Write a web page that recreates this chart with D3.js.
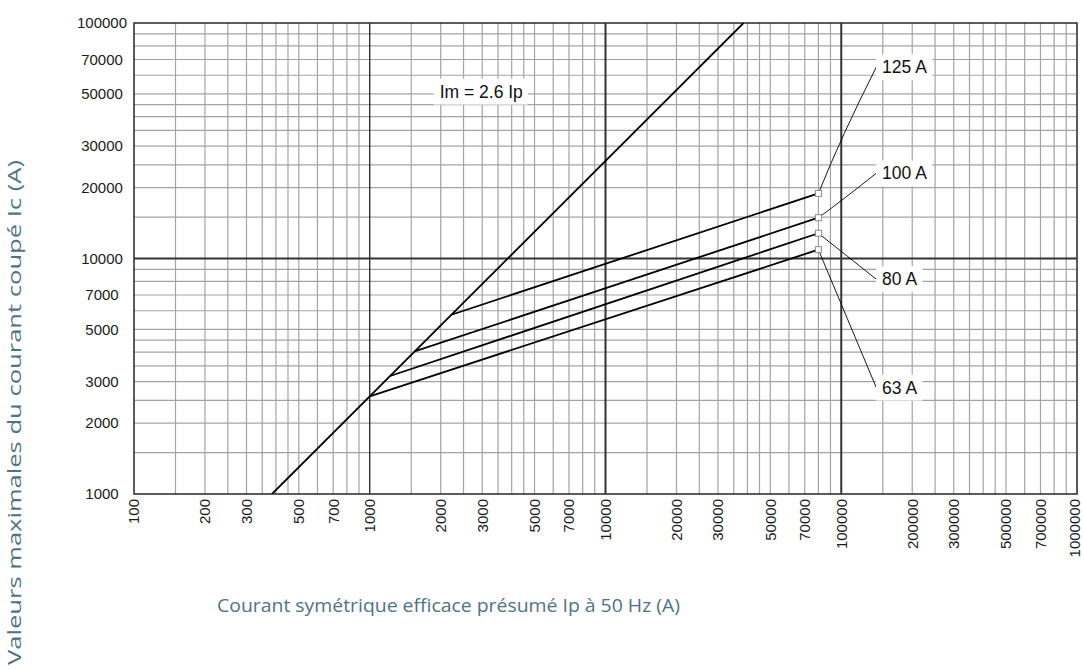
<!DOCTYPE html>
<html><head><meta charset="utf-8">
<script src="https://cdn.jsdelivr.net/npm/d3@7"></script>
<style>
html,body{margin:0;padding:0;background:#fff;}
svg{display:block;}
</style></head>
<body>
<svg id="chart" width="1084" height="669"></svg>
<script>
// ---- data ----
const xTickLabels = [100,200,300,500,700,1000,2000,3000,5000,7000,10000,20000,30000,50000,70000,100000,200000,300000,500000,700000,1000000];
const yTickLabels = [1000,2000,3000,5000,7000,10000,20000,30000,50000,70000,100000];
const gridMultipliers = [1.5,2,2.5,3,3.5,4,4.5,5,6,7,8,9];
const xDecades = [100,1000,10000,100000,1000000];
const yDecades = [1000,10000,100000];
const imLine = [[385,1000],[38500,100000]];
const imLabel = "Im = 2.6 Ip";
const imLabelPos = [1980,51200];
const ratings = ["63 A","80 A","100 A","125 A"];
const curveStart = [[1000,2600],[1220,3170],[1550,4030],[2220,5770]];
const curveEnd = [[80000,10900],[80000,12800],[80000,14900],[80000,18900]];
const labelY = [2834,8170,23000,64860];
const labelX = 149000;
const leaderX = 140700;
const xTitle = "Courant symétrique efficace présumé Ip à 50 Hz (A)";
const yTitle = "Valeurs maximales du courant coupé Ic (A)";

// ---- layout ----
const L = 134, R = 1077, T = 23, B = 494;
const svg = d3.select("#chart");
const x = d3.scaleLog().domain([100,1000000]).range([L,R]);
const y = d3.scaleLog().domain([1000,100000]).range([B,T]);

// minor grid
const xGrid = [], yGrid = [];
for (const d of xDecades.slice(0,-1)) for (const m of gridMultipliers) xGrid.push(d*m);
for (const d of yDecades.slice(0,-1)) for (const m of gridMultipliers) yGrid.push(d*m);

const g = svg.append("g");
g.selectAll(".vg").data(xGrid).join("line")
  .attr("x1",d=>x(d)).attr("x2",d=>x(d)).attr("y1",T).attr("y2",B)
  .attr("stroke","#a3a3a3").attr("stroke-width",1.2);
g.selectAll(".hg").data(yGrid).join("line")
  .attr("y1",d=>y(d)).attr("y2",d=>y(d)).attr("x1",L).attr("x2",R)
  .attr("stroke","#a3a3a3").attr("stroke-width",1.2);

// decade lines
g.selectAll(".vd").data(xDecades.slice(1,-1)).join("line")
  .attr("x1",d=>x(d)).attr("x2",d=>x(d)).attr("y1",T).attr("y2",B)
  .attr("stroke",d=>d===1000?"#111":"#333").attr("stroke-width",d=>d===1000?1.2:2);
g.selectAll(".hd").data(yDecades.slice(1,-1)).join("line")
  .attr("y1",d=>y(d)).attr("y2",d=>y(d)).attr("x1",L).attr("x2",R)
  .attr("stroke","#333").attr("stroke-width",2);

// frame
g.append("rect").attr("x",L).attr("y",T).attr("width",R-L).attr("height",B-T)
  .attr("fill","none").attr("stroke","#333").attr("stroke-width",1.6);

// axes (labels only)
const yAxis = d3.axisLeft(y).tickValues(yTickLabels).tickFormat(d3.format("d")).tickSize(0);
const ya = svg.append("g").attr("transform",`translate(${L},0)`).call(yAxis);
ya.select(".domain").remove();
ya.selectAll("text").attr("x",-32).attr("text-anchor","middle")
  .style("font-family","'Liberation Sans', Arial, sans-serif").style("font-size","15px").attr("fill","#1a1a1a");

const xAxis = d3.axisBottom(x).tickValues(xTickLabels).tickFormat(d3.format("d")).tickSize(0);
const xa = svg.append("g").attr("transform",`translate(0,${B})`).call(xAxis);
xa.select(".domain").remove();
xa.selectAll("text").attr("transform","rotate(-90)").attr("x",-5).attr("y",d=>d===1000000?-2:0).attr("dy","0.33em")
  .attr("text-anchor","end")
  .style("font-family","'Liberation Sans', Arial, sans-serif").style("font-size","15px").attr("fill","#1a1a1a");

// Im line
const line = d3.line().x(d=>x(d[0])).y(d=>y(d[1]));
svg.append("clipPath").attr("id","pc").append("rect").attr("x",L).attr("y",T).attr("width",R-L).attr("height",B-T);
svg.append("path").datum(imLine).attr("d",line).attr("clip-path","url(#pc)")
  .attr("fill","none").attr("stroke","#000").attr("stroke-width",1.8);

// rating curves
svg.selectAll(".rc").data(ratings).join("path")
  .attr("d",(d,i)=>line([curveStart[i],curveEnd[i]]))
  .attr("fill","none").attr("stroke","#000").attr("stroke-width",1.8);

// leaders
svg.selectAll(".ld").data(ratings).join("path")
  .attr("d",(d,i)=>{
    const x0 = x(curveEnd[i][0]), y0 = y(curveEnd[i][1]);
    const x1 = x(leaderX), y1 = y(labelY[i]);
    const p = d3.path(); p.moveTo(x0,y0);
    const bend = (i===3) ? 6 : (i===2 ? 4 : 0);
    p.quadraticCurveTo((x0+x1)/2 - bend, (y0+y1)/2 + bend, x1, y1);
    return p.toString();
  })
  .attr("fill","none").attr("stroke","#000").attr("stroke-width",0.9);

// squares
svg.selectAll(".sq").data(ratings).join("rect")
  .attr("x",(d,i)=>x(curveEnd[i][0])-3).attr("y",(d,i)=>y(curveEnd[i][1])-3)
  .attr("width",6).attr("height",6).attr("fill","#fff").attr("stroke","#8a8a8a").attr("stroke-width",1);

// labels with white boxes
function boxedLabel(tx, ty, text){
  const gg = svg.append("g");
  const t = gg.append("text").attr("x",tx).attr("y",ty).attr("dy","0.35em").text(text)
    .style("font-family","'Liberation Sans', Arial, sans-serif").style("font-size","17.5px").attr("fill","#111");
  const bb = t.node().getBBox();
  gg.insert("rect","text").attr("x",bb.x-6).attr("y",bb.y-3).attr("width",bb.width+11).attr("height",bb.height+6).attr("fill","#fff");
}
ratings.forEach((r,i)=>boxedLabel(x(labelX), y(labelY[i]), r));
boxedLabel(x(imLabelPos[0]), y(imLabelPos[1]), imLabel);

// axis titles
svg.append("text").attr("x",217).attr("y",612).text(xTitle)
  .attr("textLength",463).attr("lengthAdjust","spacingAndGlyphs")
  .style("font-family","'Open Sans', sans-serif").style("font-size","19px").attr("fill","#4f7385");
svg.append("text").attr("transform","translate(21,412.5) rotate(-90)").attr("text-anchor","middle").text(yTitle)
  .attr("textLength",505).attr("lengthAdjust","spacingAndGlyphs")
  .style("font-family","'Open Sans', sans-serif").style("font-size","19px").attr("fill","#4f7385");
</script>
</body></html>
